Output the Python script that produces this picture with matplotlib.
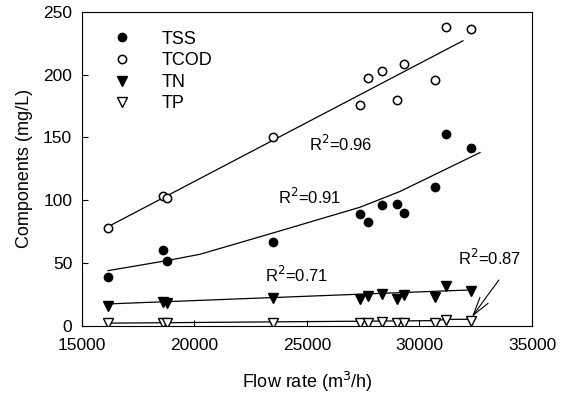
import numpy as np
import matplotlib
matplotlib.use('Agg')
from matplotlib import pyplot as plt

plt.rcParams['font.family'] = ['Liberation Sans', 'DejaVu Sans']

# flow rate (m3/h) of each sampling
flow = [16160, 18600, 18780, 23490, 27360, 27710, 28330, 29000, 29310, 30690, 31180, 32290]

tss = [39, 60.5, 52, 67, 89, 83, 96, 97, 90, 110.5, 153, 141.5]
tcod = [78, 103.5, 102, 150, 176, 197, 203, 180, 208.5, 196, 238, 236]
tn = [16, 19, 18.5, 22, 21.5, 24, 25.5, 21.5, 24.5, 23, 32, 27.5]
tp = [2, 2.5, 2.5, 2.5, 2.5, 2.5, 3, 2.5, 2.5, 2.5, 4.5, 4]

# regression curves
tcod_fit_x = [16160, 31930]
tcod_fit_y = [79, 227]
tss_fit_x = [16160, 18780, 20240, 23490, 27360, 29130, 32690]
tss_fit_y = [44, 52, 57, 74, 94.5, 107, 138]
tn_fit_x = [16160, 32200]
tn_fit_y = [17.5, 28.6]
tp_fit_x = [16160, 30690, 31180, 32290]
tp_fit_y = [2.2, 4.2, 5.2, 5.3]

r2_text = ['R$^2$=0.96', 'R$^2$=0.91', 'R$^2$=0.71', 'R$^2$=0.87']
r2_pos = [(26510, 145), (25130, 103), (24560, 40.6), (33130, 54)]
arrow_from = (33530, 36.6)
arrow_to = (32330, 7.2)

fig = plt.figure(figsize=(5.69, 3.96), dpi=100)
ax = fig.add_axes([0.144, 0.177, 0.791, 0.793])

ms = 6
ax.plot(flow, tss, 'o', color='black', ms=ms, label='TSS')
ax.plot(flow, tcod, 'o', mfc='white', mec='black', mew=1.1, ms=ms, label='TCOD')
ax.plot(flow, tn, 'v', color='black', ms=ms + 0.5, label='TN')
ax.plot(flow, tp, 'v', mfc='white', mec='black', mew=1.0, ms=ms + 0.5, label='TP')

for fx, fy in [(tcod_fit_x, tcod_fit_y), (tss_fit_x, tss_fit_y),
               (tn_fit_x, tn_fit_y), (tp_fit_x, tp_fit_y)]:
    ax.plot(fx, fy, '-', color='black', lw=0.9, zorder=1)

for t, (x, y) in zip(r2_text, r2_pos):
    ax.text(x, y, t, fontsize=12, ha='center', va='center')
ax.annotate('', xy=arrow_to, xytext=arrow_from,
            arrowprops=dict(arrowstyle='->,head_length=1.1,head_width=0.3',
                            color='black', lw=0.8,
                            shrinkA=0, shrinkB=0, mutation_scale=12))

ax.set_xlim(15000, 35000)
ax.set_ylim(0, 250)
ax.set_xticks([15000, 20000, 25000, 30000, 35000])
ax.set_yticks([0, 50, 100, 150, 200, 250])
ax.tick_params(direction='in', length=4, labelsize=12.5, top=False, right=False)
ax.tick_params(axis='x', pad=9)
ax.tick_params(axis='y', pad=7)
ax.set_xlabel('Flow rate (m$^3$/h)', fontsize=13, labelpad=12)
ax.set_ylabel('Components (mg/L)', fontsize=13, labelpad=7)

ax.legend(loc='upper left', bbox_to_anchor=(0.02, 0.98), frameon=False,
          fontsize=13, handletextpad=1.2, labelspacing=0.25, borderaxespad=0.3)

fig.savefig('out.png', dpi=100)
